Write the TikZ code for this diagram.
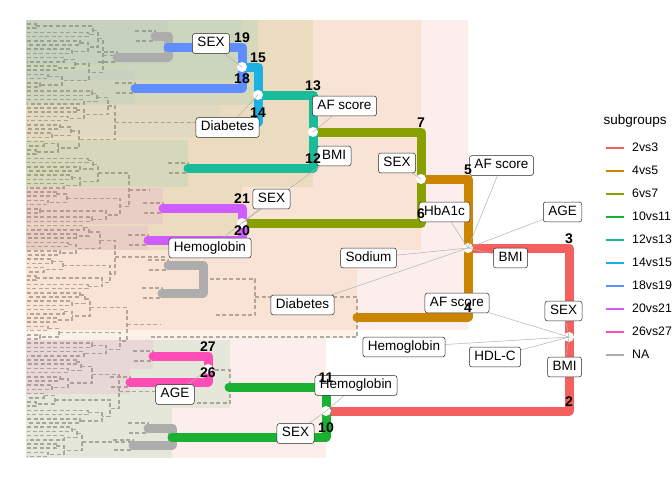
\documentclass[tikz,border=0pt]{standalone}
\usepackage{fontspec}
\setmainfont{Liberation Sans}
\usetikzlibrary{positioning}
\pgfdeclarelayer{back}
\pgfdeclarelayer{mid}
\pgfsetlayers{back,mid,main}
\definecolor{c23}{HTML}{F4605D}
\definecolor{c45}{HTML}{CC8500}
\definecolor{c67}{HTML}{88A000}
\definecolor{c1011}{HTML}{1AB032}
\definecolor{c1213}{HTML}{19BC98}
\definecolor{c1415}{HTML}{1CB1E2}
\definecolor{c1819}{HTML}{5E8EFF}
\definecolor{c2021}{HTML}{CF5CFF}
\definecolor{c2627}{HTML}{FF4DB8}
\definecolor{cNA}{HTML}{ADADAD}
\definecolor{leafgray}{HTML}{B0B0B0}
\pgfmathdeclarefunction{xone}{1}{\pgfmathparse{36+4*mod(13*#1,15)}}
\pgfmathdeclarefunction{xtwo}{1}{\pgfmathparse{max(xone(2*#1),xone(2*#1+1))+5+3*mod(5*#1,4)}}
\pgfmathdeclarefunction{xthree}{1}{\pgfmathparse{max(xtwo(2*#1),xtwo(2*#1+1))+5+3*mod(3*#1,4)}}
\pgfmathdeclarefunction{xfour}{1}{\pgfmathparse{max(xthree(2*#1),xthree(2*#1+1))+5+2*mod(#1,3)}}
\tikzset{
  branch/.style={line width=9pt, line cap=round, line join=round},
  leaf/.style={draw=leafgray, line width=1.5pt, dash pattern=on 4pt off 2.5pt},
  hilite/.style={fill opacity=0.1},
  tag/.style={draw=black!85, fill=white, rounded corners=2.5pt, line width=0.5pt,
    inner xsep=5pt, inner ysep=3.6pt, text height=9.8pt, text depth=2.9pt,
    font=\fontsize{13.5}{14}\selectfont},
  num/.style={anchor=south, inner sep=0pt, yshift=4pt, font=\bfseries\fontsize{14}{14}\selectfont},
  tie/.style={draw=black!30, line width=0.5pt}
}
\begin{document}
\begin{tikzpicture}[x=1pt,y=-1pt]
\useasboundingbox (0,0) rectangle (672,480);
\begin{pgfonlayer}{back}
\fill[white] (0,0) rectangle (672,480);
% leaves
\foreach \j in {0,...,51}{
  \pgfmathsetmacro\ya{24+8.4*\j}
  \pgfmathsetmacro\yb{\ya+4.2}
  \pgfmathsetmacro\xa{xone(\j)}
  \draw[leaf] (27,\ya) -| (\xa,\yb) -- (27,\yb);
}
\foreach \k in {0,...,25}{
  \pgfmathsetmacro\ya{26.1+16.8*\k}
  \pgfmathsetmacro\yb{\ya+8.4}
  \pgfmathsetmacro\xa{xone(2*\k)}
  \pgfmathsetmacro\xb{xone(2*\k+1)}
  \pgfmathsetmacro\xc{xtwo(\k)}
  \draw[leaf] (\xa,\ya) -| (\xc,\yb) -- (\xb,\yb);
}
\foreach \l in {0,...,12}{
  \pgfmathsetmacro\ya{30.3+33.6*\l}
  \pgfmathsetmacro\yb{\ya+16.8}
  \pgfmathsetmacro\xa{xtwo(2*\l)}
  \pgfmathsetmacro\xb{xtwo(2*\l+1)}
  \pgfmathsetmacro\xc{xthree(\l)}
  \draw[leaf] (\xa,\ya) -| (\xc,\yb) -- (\xb,\yb);
}
\foreach \p/\ex in {0/117,1/220,2/150,3/165,4/160,5/190}{
  \pgfmathsetmacro\ya{38.7+67.2*\p}
  \pgfmathsetmacro\yb{\ya+33.6}
  \pgfmathsetmacro\xa{xthree(2*\p)}
  \pgfmathsetmacro\xb{xthree(2*\p+1)}
  \pgfmathsetmacro\xc{xfour(\p)}
  \draw[leaf] (\xa,\ya) -| (\xc,\yb) -- (\xb,\yb);
  \draw[leaf] (\xc,\ya+16.8) -- (\ex,\ya+16.8);
}
\pgfmathsetmacro\xa{xthree(12)}
\draw[leaf] (\xa,441.9) -- (133,441.9);
\foreach \x/\y in {135/88,163/208,148/240,188/168,153/356,130/382,155/36,117/57,168/265,162/293,148/428,133/445}
  \draw[leaf] (\x-20,\y-5) -| (\x,\y+5) -- (\x-20,\y+5);
\draw[leaf] (203,279) -- (255,279) -- (255,315) -- (215,315);
\draw[leaf] (255,297) -- (357,297) -- (357,337) -- (150,337);
\draw[leaf] (208,370) -- (230,370) -- (230,403) -- (180,403);
% clades
\fill[hilite,c23] (26,20) rectangle (468,330);
\fill[hilite,c23] (26,338) rectangle (326,458);
\fill[hilite,c45] (26,20) rectangle (421,250);
\fill[hilite,c45] (26,250) rectangle (357,338);
\fill[hilite,c67] (26,20) rectangle (313,187);
\fill[hilite,c67] (26,187) rectangle (242,250);
\fill[hilite,c1213] (26,20) rectangle (258,105);
\fill[hilite,c1213] (26,140) rectangle (188,187);
\fill[hilite,c1415,fill opacity=0.05] (26,20) rectangle (242,80);
\fill[hilite,c1415,fill opacity=0.05] (26,105) rectangle (220,137);
\fill[hilite,c1819,fill opacity=0.05] (26,20) rectangle (168,64);
\fill[hilite,c1819,fill opacity=0.05] (26,70) rectangle (135,104);
\fill[hilite,c2021] (26,188) rectangle (163,224);
\fill[hilite,c2021] (26,226) rectangle (148,250);
\fill[hilite,c1011] (26,340) rectangle (230,408);
\fill[hilite,c1011] (26,408) rectangle (172,458);
\fill[hilite,c2627] (26,340) rectangle (153,369);
\fill[hilite,c2627] (26,369) rectangle (130,394);
% tree
\coordinate (d1) at (569,337);
\coordinate (n3) at (569,248); \coordinate (n2) at (569,411);
\coordinate (d3) at (468,248); \coordinate (d2) at (326,411);
\coordinate (n5) at (468,179); \coordinate (n4) at (468,317);
\coordinate (d5) at (421,179); \coordinate (e4) at (357,317);
\coordinate (n7) at (421,132); \coordinate (n6) at (421,223);
\coordinate (d7) at (313,132); \coordinate (d6) at (242,223);
\coordinate (n13) at (313,95); \coordinate (n12) at (313,168);
\coordinate (d13) at (258,95); \coordinate (e12) at (188,168);
\coordinate (n15) at (258,67); \coordinate (n14) at (258,122);
\coordinate (d15) at (242,67); \coordinate (e14) at (220,122);
\coordinate (n19) at (242,47); \coordinate (n18) at (242,88);
\coordinate (e19) at (168,47); \coordinate (e18) at (135,88);
\coordinate (n21) at (242,208); \coordinate (n20) at (242,240);
\coordinate (e21) at (163,208); \coordinate (e20) at (148,240);
\coordinate (n11) at (326,387); \coordinate (n10) at (326,437);
\coordinate (e11) at (229,387); \coordinate (e10) at (172,437);
\coordinate (n27) at (208,356); \coordinate (n26) at (208,382);
\coordinate (e27) at (153,356); \coordinate (e26) at (130,382);
\coordinate (d11) at (208,369);
\draw[branch,cNA] (155,36) -- (168,36) -- (168,57) -- (117,57);
\draw[branch,cNA] (168,265) -- (203,265) -- (203,293) -- (162,293);
\draw[branch,cNA] (148,428) -- (172,428) -- (172,445) -- (133,445);
\draw[branch,c23] (d3) -- (n3) -- (n2) -- (d2);
\draw[branch,c45] (d5) -- (n5) -- (n4) -- (e4);
\draw[branch,c67] (d7) -- (n7) -- (n6) -- (d6);
\draw[branch,c1213] (d13) -- (n13) -- (n12) -- (e12);
\draw[branch,c1415] (d15) -- (n15) -- (n14) -- (e14);
\draw[branch,c1819] (e19) -- (n19) -- (n18) -- (e18);
\draw[branch,c2021] (e21) -- (n21) -- (n20) -- (e20);
\draw[branch,c1011] (e11) -- (n11) -- (n10) -- (e10);
\draw[branch,c2627] (e27) -- (n27) -- (n26) -- (e26);
\end{pgfonlayer}
% split labels
\node[tag] (sex19) at (211,43.5) {SEX};
\node[tag] (diab14) at (227.5,127.5) {Diabetes};
\node[tag] (af13) at (344.5,106) {AF score};
\node[tag] (bmi12) at (334,156) {BMI};
\node[tag] (sex7) at (397,163) {SEX};
\node[tag] (sex21) at (271.5,199) {SEX};
\node[tag] (hgb20) at (210,248) {Hemoglobin};
\node[tag] (af5) at (501.5,165.5) {AF score};
\node[tag] (hba6) at (444.5,212) {HbA1c};
\node[tag] (age3) at (562.5,212) {AGE};
\node[tag] (bmi3) at (510.5,258) {BMI};
\node[tag] (sod3) at (368.5,258) {Sodium};
\node[tag] (diab4) at (302.5,305) {Diabetes};
\node[tag] (af4) at (457,303) {AF score};
\node[tag] (sex2) at (563.5,311) {SEX};
\node[tag] (bmi2) at (564.5,367) {BMI};
\node[tag] (hdl2) at (495,357) {HDL-C};
\node[tag] (hgb2) at (404,347) {Hemoglobin};
\node[tag] (hgb11) at (356,385.5) {Hemoglobin};
\node[tag] (sex10) at (295.5,433.5) {SEX};
\node[tag] (age27) at (175,394.5) {AGE};
\begin{pgfonlayer}{mid}
\foreach \d in {d1,d2,d3,d5,d6,d7,d11,d13,d15}
  \fill[white] (\d) circle (5);
\foreach \a/\b in {d15/sex19,d13/diab14,d7/af13,d5/sex7,d6/sex21,d6/hgb20,d6/bmi12,
  d3/af5,d3/hba6,d3/age3,d3/bmi3,d3/sod3,d3/diab4,d1/af4,d1/sex2,d1/bmi2,d1/hdl2,
  d1/hgb2,d2/hgb11,d2/sex10,d11/age27}
  \draw[tie] (\a) -- (\b);
\end{pgfonlayer}
\foreach \n in {2,3,4,5,6,7,10,11,12,13,14,15,18,19,20,21,26,27}
  \node[num] (num\n) at (n\n) {\n};
% legend
\node[anchor=west, font=\fontsize{13.5}{14}\selectfont] (legtitle) at (600,121) {subgroups};
\foreach \c/\t [count=\i from 0] in {c23/2vs3,c45/4vs5,c67/6vs7,c1011/10vs11,c1213/12vs13,
  c1415/14vs15,c1819/18vs19,c2021/20vs21,c2627/26vs27,cNA/NA}{
  \draw[\c, line width=2pt] (606,147.5+23*\i) -- (624,147.5+23*\i);
  \node[anchor=west, inner sep=0pt, font=\fontsize{12.3}{14}\selectfont] (leg\i) at (632,147+23*\i) {\t};
}
\end{tikzpicture}
\end{document}
